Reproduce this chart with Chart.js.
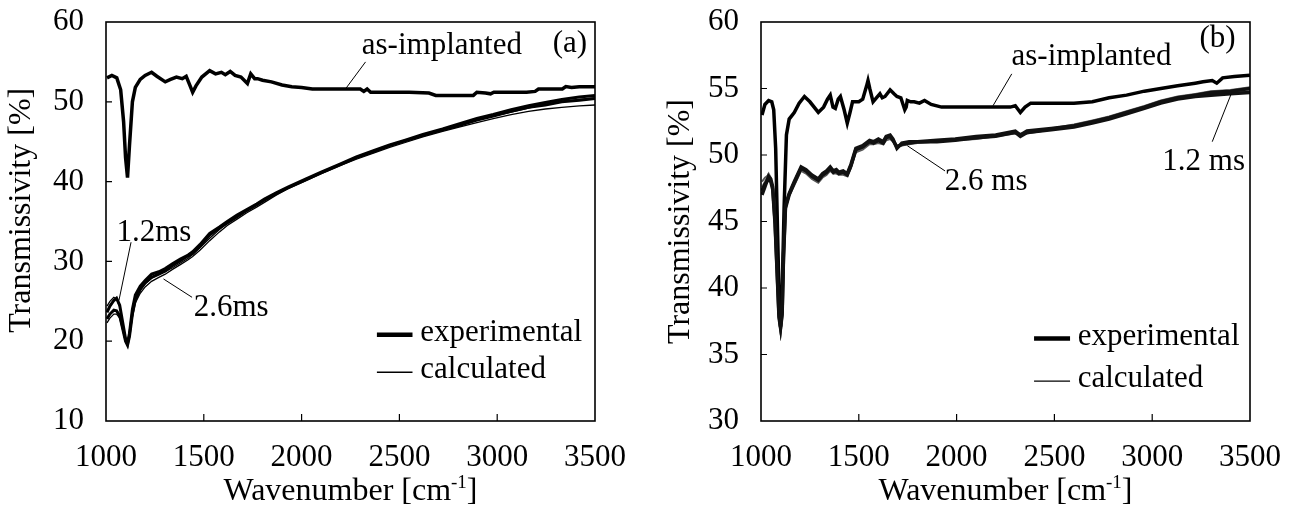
<!DOCTYPE html>
<html><head><meta charset="utf-8">
<script src="https://cdn.jsdelivr.net/npm/chart.js@4/dist/chart.umd.min.js"></script>
<style>
html,body{margin:0;padding:0;background:#fff;}
#wrap{position:relative;width:1297px;height:508px;overflow:hidden;}
#ca{position:absolute;left:0;top:0;}
#cb{position:absolute;left:640px;top:0;}
</style></head><body>
<div id="wrap"><canvas id="ca"></canvas><canvas id="cb"></canvas></div>
<script>
// ---------- tick labels ----------
const xTicks = [1000, 1500, 2000, 2500, 3000, 3500];
const yTicksA = [10, 20, 30, 40, 50, 60];
const yTicksB = [30, 35, 40, 45, 50, 55, 60];

// ---------- panel (a) : [wavenumber, transmissivity %] ----------
const asImplantedA = [[1005,53.0],[1030,53.3],[1055,53.0],[1075,51.5],[1090,47.5],[1100,43.0],[1110,40.5],[1120,44.5],[1135,50.0],[1150,51.8],[1175,52.8],[1200,53.3],[1233,53.7],[1260,53.2],[1303,52.5],[1330,52.8],[1360,53.1],[1390,52.9],[1410,53.2],[1430,52.0],[1443,51.2],[1460,52.0],[1490,53.1],[1530,53.9],[1560,53.5],[1590,53.7],[1610,53.4],[1635,53.8],[1660,53.3],[1690,53.1],[1723,52.3],[1740,53.5],[1760,52.9],[1775,52.9],[1800,52.7],[1846,52.5],[1900,52.1],[1950,51.9],[2000,51.8],[2055,51.6],[2150,51.6],[2250,51.6],[2300,51.6],[2318,51.3],[2335,51.6],[2353,51.2],[2450,51.2],[2550,51.2],[2651,51.1],[2686,50.8],[2750,50.8],[2878,50.8],[2896,51.2],[2940,51.1],[2966,51.0],[2983,51.2],[3050,51.2],[3150,51.2],[3194,51.3],[3211,51.6],[3280,51.6],[3333,51.6],[3351,51.9],[3380,51.8],[3420,51.9],[3500,51.9]];
const exp12A = [[1005,23.6],[1020,24.4],[1040,25.1],[1054,25.4],[1070,24.5],[1085,22.4],[1100,20.3],[1110,19.7],[1120,21.0],[1135,24.0],[1150,25.8],[1175,26.9],[1200,27.6],[1233,28.4],[1270,28.7],[1303,29.1],[1340,29.7],[1380,30.3],[1420,30.8],[1443,31.2],[1480,32.1],[1530,33.5],[1580,34.3],[1620,35.0],[1670,35.8],[1720,36.5],[1770,37.2],[1810,37.8],[1870,38.6],[1930,39.3],[2020,40.3],[2100,41.2],[2196,42.2],[2280,43.1],[2371,43.9],[2450,44.6],[2530,45.2],[2620,45.9],[2721,46.6],[2800,47.2],[2896,47.9],[2980,48.4],[3071,49.0],[3160,49.5],[3246,49.9],[3330,50.3],[3420,50.6],[3500,50.8]];
const exp26A = [[1005,22.8],[1020,23.4],[1040,23.9],[1054,23.8],[1070,23.2],[1085,21.6],[1100,20.0],[1110,19.5],[1120,20.6],[1135,23.4],[1150,25.2],[1175,26.5],[1200,27.3],[1233,28.0],[1270,28.4],[1303,28.8],[1340,29.5],[1380,30.1],[1420,30.7],[1443,31.0],[1480,31.9],[1530,33.3],[1580,34.2],[1620,34.8],[1670,35.6],[1720,36.4],[1770,37.1],[1810,37.7],[1870,38.5],[1930,39.2],[2020,40.2],[2100,41.1],[2196,42.1],[2280,43.0],[2371,43.8],[2450,44.5],[2530,45.1],[2620,45.8],[2721,46.5],[2800,47.0],[2896,47.7],[2980,48.2],[3071,48.8],[3160,49.3],[3246,49.6],[3330,50.0],[3420,50.2],[3500,50.4]];
const calc12A = [[1005,24.4],[1020,25.0],[1040,25.5],[1054,25.3],[1070,24.3],[1085,22.2],[1100,20.4],[1110,19.9],[1120,21.2],[1135,23.6],[1150,25.3],[1175,26.4],[1200,27.2],[1233,27.9],[1270,28.4],[1303,28.7],[1340,29.2],[1380,29.8],[1420,30.4],[1443,30.9],[1480,31.7],[1530,32.9],[1580,34.0],[1620,34.8],[1670,35.6],[1720,36.3],[1770,37.0],[1810,37.6],[1870,38.5],[1930,39.3],[2020,40.3],[2100,41.2],[2196,42.2],[2280,43.0],[2371,43.8],[2450,44.5],[2530,45.2],[2620,45.9],[2721,46.6],[2800,47.1],[2896,47.7],[2980,48.2],[3071,48.7],[3160,49.2],[3246,49.7],[3330,50.0],[3420,50.3],[3500,50.5]];
const calc26A = [[1005,22.3],[1020,22.9],[1040,23.4],[1054,23.4],[1070,22.9],[1085,21.4],[1100,19.9],[1110,19.6],[1120,20.7],[1135,23.0],[1150,24.8],[1175,26.0],[1200,26.8],[1233,27.5],[1270,28.0],[1303,28.4],[1340,29.0],[1380,29.6],[1420,30.2],[1443,30.6],[1480,31.4],[1530,32.6],[1580,33.7],[1620,34.5],[1670,35.3],[1720,36.1],[1770,36.8],[1810,37.4],[1870,38.3],[1930,39.1],[2020,40.1],[2100,41.0],[2196,42.0],[2280,42.8],[2371,43.6],[2450,44.3],[2530,44.9],[2620,45.6],[2721,46.3],[2800,46.8],[2896,47.4],[2980,47.9],[3071,48.4],[3160,48.8],[3246,49.1],[3330,49.3],[3420,49.5],[3500,49.6]];

// ---------- panel (b) ----------
const asImplantedB = [[1005,53.0],[1020,53.8],[1039,54.1],[1055,54.0],[1065,53.4],[1075,50.5],[1085,44.0],[1093,39.0],[1100,37.1],[1108,39.5],[1118,46.0],[1130,51.5],[1144,52.7],[1170,53.2],[1195,53.9],[1222,54.4],[1250,54.0],[1293,53.2],[1320,53.6],[1340,54.2],[1354,54.5],[1368,53.6],[1380,53.5],[1395,54.2],[1406,54.4],[1425,53.4],[1441,52.4],[1455,53.2],[1468,54.0],[1500,54.0],[1520,54.2],[1540,55.2],[1547,55.6],[1556,55.0],[1573,54.0],[1590,54.3],[1608,54.6],[1620,54.3],[1634,54.4],[1660,54.9],[1680,54.6],[1695,54.4],[1715,54.3],[1735,53.4],[1742,53.6],[1748,54.1],[1765,54.0],[1783,54.0],[1810,53.9],[1836,54.1],[1870,53.8],[1923,53.6],[2100,53.6],[2274,53.6],[2300,53.7],[2326,53.2],[2350,53.6],[2379,53.9],[2500,53.9],[2600,53.9],[2694,54.0],[2780,54.3],[2869,54.5],[2960,54.8],[3044,55.0],[3130,55.2],[3220,55.4],[3260,55.5],[3307,55.6],[3330,55.4],[3360,55.8],[3420,55.9],[3500,56.0]];
const exp12B = [[1005,47.0],[1020,47.6],[1039,48.4],[1050,48.2],[1060,47.6],[1072,45.0],[1082,41.5],[1092,38.0],[1100,37.1],[1108,38.2],[1115,42.5],[1125,46.2],[1144,47.1],[1170,48.0],[1205,49.1],[1230,48.9],[1260,48.5],[1293,48.2],[1315,48.6],[1335,48.8],[1354,49.1],[1370,48.8],[1385,48.9],[1398,48.7],[1420,48.8],[1441,48.6],[1460,49.3],[1485,50.5],[1520,50.7],[1555,51.1],[1575,51.0],[1600,51.2],[1625,51.0],[1640,51.4],[1660,51.5],[1675,51.2],[1695,50.5],[1720,50.9],[1757,51.0],[1800,51.0],[1900,51.1],[1993,51.2],[2100,51.4],[2200,51.5],[2300,51.8],[2326,51.5],[2360,51.8],[2484,52.0],[2600,52.2],[2694,52.5],[2780,52.8],[2869,53.2],[2960,53.6],[3044,54.0],[3130,54.3],[3220,54.5],[3300,54.7],[3400,54.8],[3500,55.0]];
const exp26B = [[1005,47.3],[1020,47.8],[1039,48.2],[1050,48.0],[1060,47.4],[1072,44.8],[1082,41.3],[1092,37.8],[1100,37.0],[1108,38.0],[1115,42.3],[1125,46.0],[1144,47.0],[1170,47.9],[1205,49.0],[1230,48.8],[1260,48.4],[1293,48.1],[1315,48.5],[1335,48.7],[1354,49.0],[1370,48.7],[1385,48.8],[1398,48.6],[1420,48.7],[1441,48.5],[1460,49.2],[1485,50.4],[1520,50.6],[1555,51.0],[1575,50.9],[1600,51.1],[1625,50.9],[1640,51.3],[1660,51.4],[1675,51.1],[1695,50.6],[1720,50.8],[1757,50.9],[1800,51.0],[1900,51.0],[1993,51.1],[2100,51.3],[2200,51.4],[2300,51.7],[2326,51.4],[2360,51.7],[2484,51.9],[2600,52.1],[2694,52.4],[2780,52.7],[2869,53.1],[2960,53.5],[3044,53.9],[3130,54.2],[3220,54.4],[3300,54.5],[3400,54.6],[3500,54.7]];
const calc12B = [[1005,47.6],[1020,48.0],[1039,48.6],[1050,48.3],[1060,47.5],[1072,44.9],[1082,41.4],[1092,38.1],[1100,37.3],[1108,38.3],[1115,42.4],[1125,46.1],[1144,47.0],[1170,47.8],[1205,48.9],[1230,48.7],[1260,48.3],[1293,48.0],[1315,48.4],[1335,48.6],[1354,48.9],[1370,48.6],[1385,48.7],[1398,48.6],[1420,48.6],[1441,48.5],[1460,49.1],[1485,50.3],[1520,50.5],[1555,50.9],[1575,50.8],[1600,51.0],[1625,50.9],[1640,51.2],[1660,51.3],[1675,51.1],[1695,50.7],[1720,50.8],[1757,50.9],[1800,50.9],[1900,51.0],[1993,51.1],[2100,51.3],[2200,51.5],[2300,51.7],[2326,51.6],[2360,51.7],[2484,52.0],[2600,52.3],[2694,52.6],[2780,52.9],[2869,53.3],[2960,53.7],[3044,54.1],[3130,54.4],[3220,54.6],[3300,54.8],[3400,54.9],[3500,55.1]];
const calc26B = [[1005,48.0],[1020,48.3],[1039,48.5],[1050,48.1],[1060,47.3],[1072,44.7],[1082,41.2],[1092,38.0],[1100,37.2],[1108,38.1],[1115,42.2],[1125,45.9],[1144,46.9],[1170,47.7],[1205,48.8],[1230,48.6],[1260,48.2],[1293,47.9],[1315,48.3],[1335,48.5],[1354,48.8],[1370,48.6],[1385,48.6],[1398,48.5],[1420,48.5],[1441,48.4],[1460,49.0],[1485,50.2],[1520,50.4],[1555,50.8],[1575,50.8],[1600,50.9],[1625,50.8],[1640,51.1],[1660,51.2],[1675,51.0],[1695,50.7],[1720,50.7],[1757,50.8],[1800,50.9],[1900,51.0],[1993,51.1],[2100,51.2],[2200,51.4],[2300,51.6],[2326,51.5],[2360,51.6],[2484,51.9],[2600,52.2],[2694,52.5],[2780,52.8],[2869,53.2],[2960,53.6],[3044,54.0],[3130,54.3],[3220,54.5],[3300,54.6],[3400,54.7],[3500,54.8]];

// ---------- texts ----------
const yTitle = 'Transmissivity [%]';
const xTitleMain = 'Wavenumber [cm';
const xTitleSup = '-1';
const xTitleEnd = ']';
const legendLabels = ['experimental', 'calculated'];

const FONT = '"Liberation Serif", "Times New Roman", serif';
const SZ = 31;
const TSZ = 32;

function toXY(arr){ return arr.map(p => ({x:p[0], y:p[1]})); }
function ds(arr, w, color){
  return {data: toXY(arr), borderColor: color, borderWidth: w, pointRadius: 0, tension: 0, fill: false};
}
function noPad(s){ s.paddingTop = 0; s.paddingBottom = 0; s.paddingLeft = 0; s.paddingRight = 0; }

const decor = {
  id: 'decor',
  afterDraw(chart, args, o){
    const ctx = chart.ctx, a = chart.chartArea, xs = chart.scales.x, ys = chart.scales.y;
    ctx.save();
    // frame
    ctx.strokeStyle = '#000'; ctx.lineWidth = 1.6;
    ctx.strokeRect(a.left, a.top, a.right - a.left, a.bottom - a.top);
    // inward ticks
    ctx.lineWidth = 1.2;
    ctx.beginPath();
    o.yTicks.forEach(v => { if (v === ys.min || v === ys.max) return; const py = ys.getPixelForValue(v); ctx.moveTo(a.left, py); ctx.lineTo(a.left + 6, py); });
    xTicks.forEach(v => { if (v === xs.min || v === xs.max) return; const px = xs.getPixelForValue(v); ctx.moveTo(px, a.bottom); ctx.lineTo(px, a.bottom - 7); });
    ctx.stroke();
    const P = (x, y) => [xs.getPixelForValue(x), ys.getPixelForValue(y)];
    // leader lines
    ctx.lineWidth = 1;
    o.leaders.forEach(l => { const p1 = P(l[0], l[1]), p2 = P(l[2], l[3]); ctx.beginPath(); ctx.moveTo(p1[0], p1[1]); ctx.lineTo(p2[0], p2[1]); ctx.stroke(); });
    // labels
    ctx.fillStyle = '#000';
    ctx.font = SZ + 'px ' + FONT;
    ctx.textAlign = 'center'; ctx.textBaseline = 'middle';
    o.labels.forEach(t => { const p = P(t.x, t.y); ctx.fillText(t.text, p[0], p[1]); });
    // legend
    const lg = o.legend;
    [[lg.y1, 4.5, legendLabels[0]], [lg.y2, 1.4, legendLabels[1]]].forEach(e => {
      const p1 = P(lg.x1, e[0]), p2 = P(lg.x2, e[0]);
      ctx.lineWidth = e[1]; ctx.beginPath(); ctx.moveTo(p1[0], p1[1]); ctx.lineTo(p2[0], p2[1]); ctx.stroke();
      const pt = P(lg.xt, e[0]);
      ctx.textAlign = 'left'; ctx.fillText(e[2], pt[0], pt[1] - 2);
    });
    // y title (rotated)
    ctx.save();
    ctx.font = TSZ + 'px ' + FONT;
    ctx.translate(o.yTitleX, ys.getPixelForValue(o.yTitleCenter));
    ctx.rotate(-Math.PI / 2);
    ctx.textAlign = 'center'; ctx.textBaseline = 'middle';
    ctx.fillText(yTitle, 0, 0);
    ctx.restore();
    // x title with superscript
    const supFont = '19px ' + FONT;
    ctx.font = TSZ + 'px ' + FONT;
    const w1 = ctx.measureText(xTitleMain).width, w3 = ctx.measureText(xTitleEnd).width;
    ctx.font = supFont; const w2 = ctx.measureText(xTitleSup).width;
    const total = w1 + w2 + w3;
    let x0 = (a.left + a.right) / 2 - total / 2;
    const by = o.titleBaseline;
    ctx.textAlign = 'left'; ctx.textBaseline = 'alphabetic';
    ctx.font = TSZ + 'px ' + FONT; ctx.fillText(xTitleMain, x0, by);
    ctx.font = supFont; ctx.fillText(xTitleSup, x0 + w1, by - 12);
    ctx.font = TSZ + 'px ' + FONT; ctx.fillText(xTitleEnd, x0 + w1 + w2, by);
    ctx.restore();
  }
};

function makeChart(id, cw, yMin, yMax, yTicks, axisW, padRight, datasets, deco){
  const c = document.getElementById(id);
  c.width = cw; c.height = 508; c.style.width = cw + 'px'; c.style.height = '508px';
  return new Chart(c, {
    type: 'line',
    data: {datasets},
    options: {
      responsive: false, animation: false, devicePixelRatio: 1,
      layout: {autoPadding: false, padding: {left: 0, right: padRight, top: 22, bottom: 0}},
      plugins: {legend: {display: false}, tooltip: {enabled: false}, decor: deco},
      scales: {
        x: {type: 'linear', min: 1000, max: 3500,
            afterBuildTicks: s => { s.ticks = xTicks.map(v => ({value: v})); },
            ticks: {font: {family: FONT, size: SZ}, color: '#000', padding: 18, maxRotation: 0, autoSkip: false, callback: v => String(v)},
            grid: {display: false, drawTicks: false}, border: {display: false},
            afterFit: s => { s.height = 87; noPad(s); }},
        y: {type: 'linear', min: yMin, max: yMax,
            afterBuildTicks: s => { s.ticks = yTicks.map(v => ({value: v})); },
            ticks: {font: {family: FONT, size: SZ}, color: '#000', padding: 22, callback: v => String(v)},
            grid: {display: false, drawTicks: false}, border: {display: false},
            title: {display: false},
            afterFit: s => { s.width = axisW; noPad(s); }}
      }
    },
    plugins: [decor]
  });
}

makeChart('ca', 640, 10, 60, yTicksA, 106, 45, [
  ds(calc12A, 1.3, '#000'), ds(calc26A, 1.3, '#000'),
  ds(exp12A, 3, '#000'), ds(exp26A, 3, '#000'),
  ds(asImplantedA, 3.5, '#000')
], {
  yTicks: yTicksA, titleBaseline: 500, yTitleX: 22, yTitleCenter: 36.4,
  labels: [
    {text: 'as-implanted', x: 2717, y: 57.0},
    {text: '(a)', x: 3372, y: 57.3},
    {text: '1.2ms', x: 1245, y: 33.6},
    {text: '2.6ms', x: 1640, y: 24.2}
  ],
  leaders: [[2327, 55.0, 2227, 51.7], [1128, 32.4, 1066, 25.1], [1440, 25.5, 1294, 27.8]],
  legend: {x1: 2385, x2: 2567, xt: 2607, y1: 20.8, y2: 16.1}
});

makeChart('cb', 657, 30, 60, yTicksB, 121, 47, [
  ds(exp12B, 3.5, '#111'), ds(exp26B, 3.5, '#111'),
  ds(calc12B, 1.8, '#666'), ds(calc26B, 1.8, '#555'),
  ds(asImplantedB, 3.5, '#000')
], {
  yTicks: yTicksB, titleBaseline: 500, yTitleX: 41, yTitleCenter: 45.0,
  labels: [
    {text: 'as-implanted', x: 2690, y: 57.4},
    {text: '(b)', x: 3334, y: 58.7},
    {text: '2.6 ms', x: 2151, y: 48.0},
    {text: '1.2 ms', x: 3263, y: 49.5}
  ],
  leaders: [[2282, 56.1, 2186, 53.7], [1941, 48.8, 1748, 50.7], [3307, 51.0, 3404, 54.6]],
  legend: {x1: 2396, x2: 2580, xt: 2619, y1: 36.2, y2: 33.0}
});
</script>
</body></html>
